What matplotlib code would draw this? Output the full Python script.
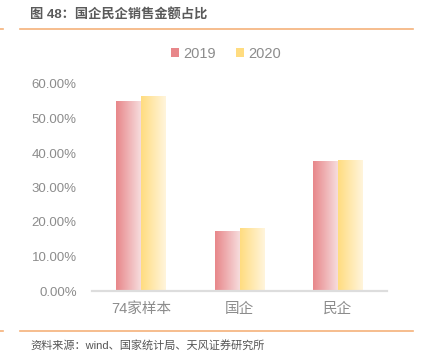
import numpy as np
import matplotlib
matplotlib.use("Agg")
import matplotlib.pyplot as plt
from matplotlib.colors import LinearSegmentedColormap
from matplotlib.patches import Patch
from matplotlib.lines import Line2D

plt.rcParams['font.family'] = ['Liberation Sans', 'Noto Sans CJK SC', 'DejaVu Sans']

# data
categories = ['74家样本', '国企', '民企']
years = ['2019', '2020']
share_2019 = [0.548, 0.173, 0.374]
share_2020 = [0.563, 0.182, 0.379]
yticks = [0, 0.1, 0.2, 0.3, 0.4, 0.5, 0.6]

title = '图 48：国企民企销售金额占比'
source = '资料来源：wind、国家统计局、天风证券研究所'

# gradient colours (left -> right)
grad_colors = [('#E8878A', '#F6DCDD'), ('#FFDC80', '#FFF5DC')]
text_gray = '#8C8C8C'
orange = '#F5B27A'

W, H = 424, 358
fig = plt.figure(figsize=(W / 100, H / 100), dpi=100)
ax = fig.add_axes([92 / W, (H - 291) / H, (387 - 92) / W, (291 - 84) / H])

x = np.arange(len(categories))
bw = 0.254
series = [share_2019, share_2020]
for i, vals in enumerate(series):
    bars = ax.bar(x + (i - 0.5) * bw, vals, width=bw, color='none', linewidth=0)
    cmap = LinearSegmentedColormap.from_list('g%d' % i, grad_colors[i])
    grad = np.linspace(0, 1, 64).reshape(1, -1)
    for b in bars:
        x0, y0 = b.get_x(), b.get_y()
        ax.imshow(grad, cmap=cmap, aspect='auto', interpolation='bicubic',
                  extent=[x0, x0 + b.get_width(), y0, y0 + b.get_height()], zorder=2)

ax.set_xlim(-0.5, 2.5)
ax.set_ylim(0, 0.6)
ax.set_xticks(x)
ax.set_xticklabels(categories, fontsize=10.5, color=text_gray)
ax.set_yticks(yticks)
ax.set_yticklabels(['%.2f%%' % (v * 100) for v in yticks], fontsize=9.5, color=text_gray)
ax.tick_params(axis='both', length=0)
ax.tick_params(axis='x', pad=8)
ax.tick_params(axis='y', pad=11)
for s in ['top', 'right', 'left']:
    ax.spines[s].set_visible(False)
ax.spines['bottom'].set_color('#DDDDDD')
ax.spines['bottom'].set_linewidth(1.6)
ax.set_facecolor('none')

handles = [Patch(facecolor=c[0], edgecolor='none') for c in grad_colors]
fig.legend(handles, years, loc='center', bbox_to_anchor=(226 / W, 1 - 54 / H),
           ncol=2, frameon=False, fontsize=10.5, labelcolor=text_gray,
           handlelength=0.55, handleheight=0.55, handletextpad=0.3, columnspacing=1.4)

# title, rules and source
fig.text(30 / W, 1 - 15 / H, title, fontsize=9.5, fontweight='bold', color='#5a5a5a',
         va='center', ha='left')
for yy in [29, 331]:
    fig.add_artist(Line2D([20 / W, 413 / W], [1 - yy / H] * 2, color=orange, lw=1.2))
    fig.add_artist(Line2D([0, 3 / W], [1 - yy / H] * 2, color=orange, lw=1.2))
fig.text(30 / W, 1 - 345 / H, source, fontsize=8, color='#555555', va='center', ha='left')

fig.savefig('out.png', dpi=100)
